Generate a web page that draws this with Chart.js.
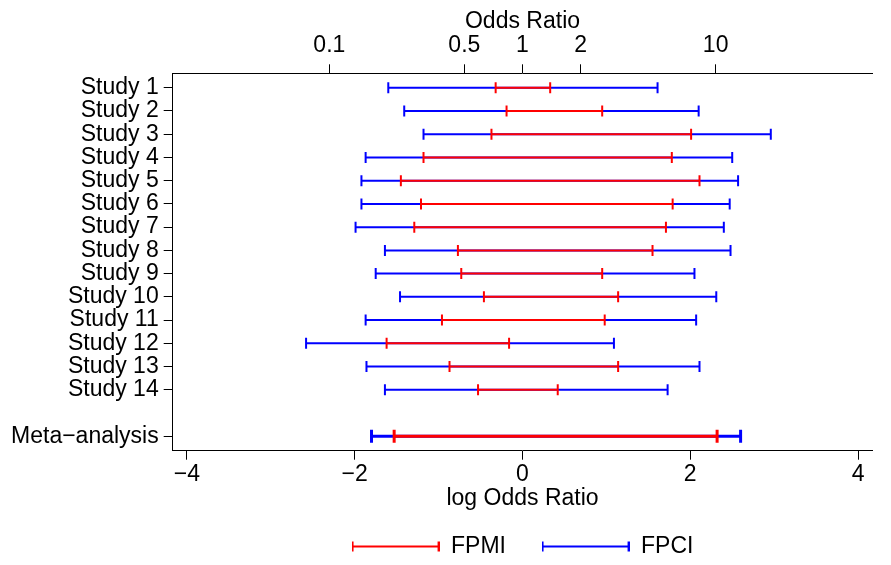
<!DOCTYPE html>
<html>
<head>
<meta charset="utf-8">
<title>Forest plot</title>
<script src="https://cdn.jsdelivr.net/npm/chart.js@4/dist/chart.umd.min.js"></script>
<style>
    body { margin: 0; background: #ffffff; }
    #forestChart { display: block; }
</style>
</head>
<body>
<canvas id="forestChart" width="891" height="565"></canvas>
<script>
// Forest plot data (log odds ratio scale)

const studyLabels = ['Study 1', 'Study 2', 'Study 3', 'Study 4', 'Study 5', 'Study 6', 'Study 7',
    'Study 8', 'Study 9', 'Study 10', 'Study 11', 'Study 12', 'Study 13', 'Study 14'];
const metaLabel = 'Meta\u2212analysis';

// FPCI intervals (blue)
const fpciLow  = [-1.60, -1.41, -1.18, -1.87, -1.92, -1.92, -1.99, -1.64, -1.75, -1.46, -1.87, -2.58, -1.86, -1.64];
const fpciHigh = [ 1.61,  2.10,  2.96,  2.50,  2.57,  2.47,  2.40,  2.48,  2.05,  2.31,  2.07,  1.09,  2.11,  1.73];

// FPMI intervals (red)
const fpmiLow  = [-0.32, -0.19, -0.37, -1.18, -1.45, -1.21, -1.29, -0.77, -0.73, -0.46, -0.96, -1.62, -0.87, -0.53];
const fpmiHigh = [ 0.33,  0.95,  2.01,  1.78,  2.11,  1.79,  1.71,  1.55,  0.95,  1.14,  0.98, -0.16,  1.14,  0.42];

// Meta-analysis intervals
const metaFpci = [-1.80, 2.60];
const metaFpmi = [-1.53, 2.32];

// Axis ticks
const logTicks = [-4, -2, 0, 2, 4];
const oddsTicks = [0.1, 0.5, 1, 2, 10];
const oddsTickLabels = ['0.1', '0.5', '1', '2', '10'];

const studyRows = studyLabels.map(function(label, i) { return i + 1; });
const metaRow = studyLabels.length + 2;

const RED = 'rgb(255, 0, 0)';
const BLUE = 'rgb(0, 0, 255)';

// Turn low/high lists into one broken line (NaN point between segments)
function buildSegments(lows, highs, rows) {
    var points = [];
    lows.forEach(function(lo, i) {
        points.push({ x: lo, y: rows[i] });
        points.push({ x: highs[i], y: rows[i] });
        points.push({ x: NaN, y: NaN });
    });
    return points;
}

function intervalDataset(label, points, color, width, capRadius) {
    return {
        label: label,
        data: points,
        showLine: true,
        spanGaps: false,
        borderColor: color,
        backgroundColor: color,
        borderWidth: width,
        pointStyle: 'line',
        rotation: 90,
        pointRadius: capRadius,
        pointBorderWidth: width,
        pointBorderColor: color,
        pointHoverRadius: capRadius
    };
}

// Small legend swatch: a line with end caps
function makeSwatch(color) {
    var c = document.createElement('canvas');
    c.width = 88;
    c.height = 14;
    var ctx = c.getContext('2d');
    ctx.strokeStyle = color;
    ctx.lineWidth = 2;
    ctx.beginPath();
    ctx.moveTo(1, 7); ctx.lineTo(87, 7);
    ctx.moveTo(1, 2); ctx.lineTo(1, 12);
    ctx.moveTo(87, 2); ctx.lineTo(87, 12);
    ctx.stroke();
    return c;
}

function initializeForestChart() {
    const chartCanvas = document.getElementById('forestChart');
    if (!chartCanvas) return;

    Chart.defaults.font.family = "'Liberation Sans', Arial, Helvetica, sans-serif";
    Chart.defaults.font.size = 23;
    Chart.defaults.color = '#000000';

    const redSwatch = makeSwatch(RED);
    const blueSwatch = makeSwatch(BLUE);

    const axisGrid = {
        drawOnChartArea: false,
        drawTicks: true,
        tickLength: 9,
        tickColor: '#000000',
        tickWidth: 1
    };
    const axisBorder = { display: true, color: '#000000', width: 1 };

    new Chart(chartCanvas.getContext('2d'), {
        type: 'scatter',
        data: {
            datasets: [
                intervalDataset('FPMI', buildSegments(fpmiLow, fpmiHigh, studyRows), RED, 2, 5.5),
                intervalDataset('FPMI meta', buildSegments([metaFpmi[0]], [metaFpmi[1]], [metaRow]), RED, 3, 6.5),
                intervalDataset('FPCI', buildSegments(fpciLow, fpciHigh, studyRows), BLUE, 2, 5.5),
                intervalDataset('FPCI meta', buildSegments([metaFpci[0]], [metaFpci[1]], [metaRow]), BLUE, 3, 6.5)
            ]
        },
        options: {
            responsive: false,
            animation: false,
            layout: {
                padding: { left: 0, right: 18.7, top: 0, bottom: -3 }
            },
            plugins: {
                tooltip: { enabled: false },
                legend: {
                    position: 'bottom',
                    fullSize: false,
                    labels: {
                        usePointStyle: true,
                        pointStyleWidth: 88,
                        padding: 10,
                        font: { size: 23 },
                        generateLabels: function() {
                            return [
                                { text: 'FPMI    ', pointStyle: redSwatch, fillStyle: RED, strokeStyle: RED, lineWidth: 0, fontColor: '#000000', hidden: false, datasetIndex: 0 },
                                { text: 'FPCI', pointStyle: blueSwatch, fillStyle: BLUE, strokeStyle: BLUE, lineWidth: 0, fontColor: '#000000', hidden: false, datasetIndex: 2 }
                            ];
                        }
                    }
                }
            },
            scales: {
                x: {
                    type: 'linear',
                    position: 'bottom',
                    min: -4.17,
                    max: 4.17,
                    grid: axisGrid,
                    border: axisBorder,
                    afterBuildTicks: function(scale) {
                        scale.ticks = logTicks.map(function(v) { return { value: v }; });
                    },
                    afterFit: function(scale) { scale.height = 74.3; },
                    ticks: {
                        autoSkip: false,
                        maxRotation: 0,
                        padding: 1.5,
                        callback: function(value) { return String(value).replace('-', '\u2212'); }
                    },
                    title: {
                        display: true,
                        text: 'log Odds Ratio',
                        padding: { top: 0, bottom: 13 }
                    }
                },
                x2: {
                    type: 'linear',
                    position: 'top',
                    min: -4.17,
                    max: 4.17,
                    grid: axisGrid,
                    border: axisBorder,
                    afterBuildTicks: function(scale) {
                        scale.ticks = oddsTicks.map(function(v) { return { value: Math.log(v) }; });
                    },
                    afterFit: function(scale) { scale.height = 73.3; },
                    ticks: {
                        autoSkip: false,
                        maxRotation: 0,
                        padding: 4.5,
                        callback: function(value, index) { return oddsTickLabels[index]; }
                    },
                    title: {
                        display: true,
                        text: 'Odds Ratio',
                        padding: { top: 7.5, bottom: 0 }
                    }
                },
                y: {
                    type: 'linear',
                    reverse: true,
                    min: 0.38,
                    max: 16.62,
                    grid: axisGrid,
                    border: axisBorder,
                    afterBuildTicks: function(scale) {
                        scale.ticks = studyRows.concat([metaRow]).map(function(v) { return { value: v }; });
                    },
                    afterFit: function(scale) { scale.width = 172.7; },
                    ticks: {
                        autoSkip: false,
                        padding: 5,
                        callback: function(value) {
                            if (value === metaRow) return metaLabel;
                            return studyLabels[value - 1];
                        }
                    }
                }
            }
        }
    });
}

// Initialize when DOM is ready
document.addEventListener('DOMContentLoaded', function() {
    initializeForestChart();
});
</script>
</body>
</html>
